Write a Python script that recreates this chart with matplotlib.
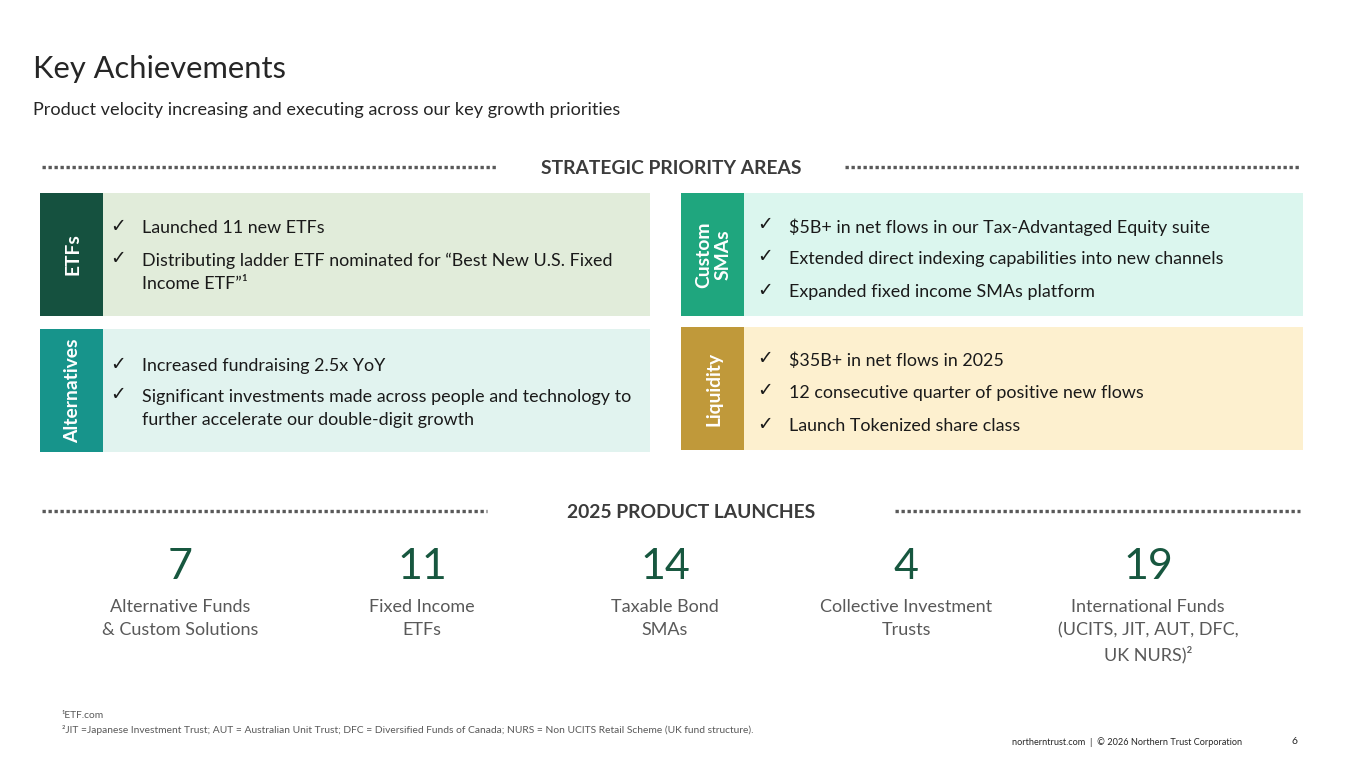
import matplotlib.pyplot as plt
from matplotlib.patches import Rectangle

plt.rcParams['font.family'] = ['Lato', 'DejaVu Sans']

# Slide text and values
title = 'Key Achievements'
subtitle = 'Product velocity increasing and executing across our key growth priorities'

area_names = ['ETFs', 'Alternatives', 'Custom\nSMAs', 'Liquidity']
area_bullets = [
    ['Launched 11 new ETFs',
     'Distributing ladder ETF nominated for \u201cBest New U.S. Fixed\nIncome ETF\u201d\u00b9'],
    ['Increased fundraising 2.5x YoY',
     'Significant investments made across people and technology to\nfurther accelerate our double-digit growth'],
    ['$5B+ in net flows in our Tax-Advantaged Equity suite',
     'Extended direct indexing capabilities into new channels',
     'Expanded fixed income SMAs platform'],
    ['$35B+ in net flows in 2025',
     '12 consecutive quarter of positive new flows',
     'Launch Tokenized share class'],
]

launch_counts = [7, 11, 14, 4, 19]
launch_labels = ['Alternative Funds\n& Custom Solutions', 'Fixed Income\nETFs',
                 'Taxable Bond\nSMAs', 'Collective Investment\nTrusts',
                 'International Funds\n(UCITS, JIT, AUT, DFC,\nUK NURS)\u00b2']

footnotes = ['\u00b9ETF.com',
             '\u00b2JIT =Japanese Investment Trust; AUT = Australian Unit Trust; DFC = Diversified Funds of Canada; '
             'NURS = Non UCITS Retail Scheme (UK fund structure).']
footer = 'northerntrust.com  |  \u00a9 2026 Northern Trust Corporation'
page_no = '6'

# Layout (pixel space)
W, H = 1365, 768
box_x = [40, 40, 681, 681]
box_y = [193, 329, 193, 327]
box_w = [610, 610, 622, 622]
box_h = 123
tab_w = 63
text_dx = [102, 102, 108, 108]
tab_colors = ['#15513f', '#17948b', '#1fa67e', '#c0993a']
fill_colors = ['#e1ecda', '#e1f3ef', '#dbf6ee', '#fdf0cf']
bullet_rows = [[226, 259], [364, 395], [225, 257, 290], [358, 391, 424]]
launch_x = [180, 422, 665, 906, 1148]

fig = plt.figure(figsize=(W / 100, H / 100), dpi=100)
ax = fig.add_axes([0, 0, 1, 1])
ax.set_xlim(0, W)
ax.set_ylim(H, 0)
ax.axis('off')

dark = '#262626'
gray = '#595959'
green = '#17573f'

ax.text(33, 69, title, fontsize=22.2, color=dark, va='center', ha='left')
ax.text(33, 110, subtitle, fontsize=13.1, color=dark, va='center', ha='left')


def section_header(label, y, left, right):
    ax.plot(left, [y, y], color='#595959', lw=2.4, linestyle=(0, (1, 0.8)),
            dash_capstyle='butt')
    ax.plot(right, [y, y], color='#595959', lw=2.4, linestyle=(0, (1, 0.8)),
            dash_capstyle='butt')
    ax.text((left[1] + right[0]) / 2, y + 1, label, fontsize=13.9, fontweight='bold',
            color='#3b3b3b', ha='center', va='center')


section_header('STRATEGIC PRIORITY AREAS', 167, [42, 498], [845, 1300])
section_header('2025 PRODUCT LAUNCHES', 511, [42, 487], [895, 1300])

for i, name in enumerate(area_names):
    x0, y0 = box_x[i], box_y[i]
    ax.add_patch(Rectangle((x0, y0), box_w[i], box_h, facecolor=fill_colors[i], edgecolor='none'))
    ax.add_patch(Rectangle((x0, y0), tab_w, box_h, facecolor=tab_colors[i], edgecolor='none'))
    ax.text(x0 + tab_w / 2 + 1, y0 + box_h / 2, name, rotation=90, fontsize=13.9,
            fontweight='bold', color='white', ha='center', va='center',
            multialignment='center', linespacing=1.2)
    for j, line in enumerate(area_bullets[i]):
        yy = bullet_rows[i][j]
        ax.text(x0 + text_dx[i] - 24, yy, '\u2713', fontsize=13.5, color='#1a1a1a',
                ha='center', va='center', family=['DejaVu Sans'])
        ax.text(x0 + text_dx[i], yy - 6, line, fontsize=12.9, color='#1a1a1a',
                ha='left', va='top', linespacing=1.52)

for k, cnt in enumerate(launch_counts):
    ax.text(launch_x[k], 567, str(cnt), fontsize=31, color=green, ha='center', va='center')
    ax.text(launch_x[k], 599, launch_labels[k], fontsize=13, color=gray, ha='center',
            va='top', linespacing=1.52)

ax.text(62, 716, footnotes[0], fontsize=7.4, color=gray, ha='left', va='center')
ax.text(62, 730, footnotes[1], fontsize=7.4, color=gray, ha='left', va='center')
ax.text(1242, 742, footer, fontsize=6.6, color=dark, ha='right', va='center')
ax.text(1294, 742, page_no, fontsize=7.5, color=dark, ha='center', va='center')

fig.savefig('out.png', dpi=100)
